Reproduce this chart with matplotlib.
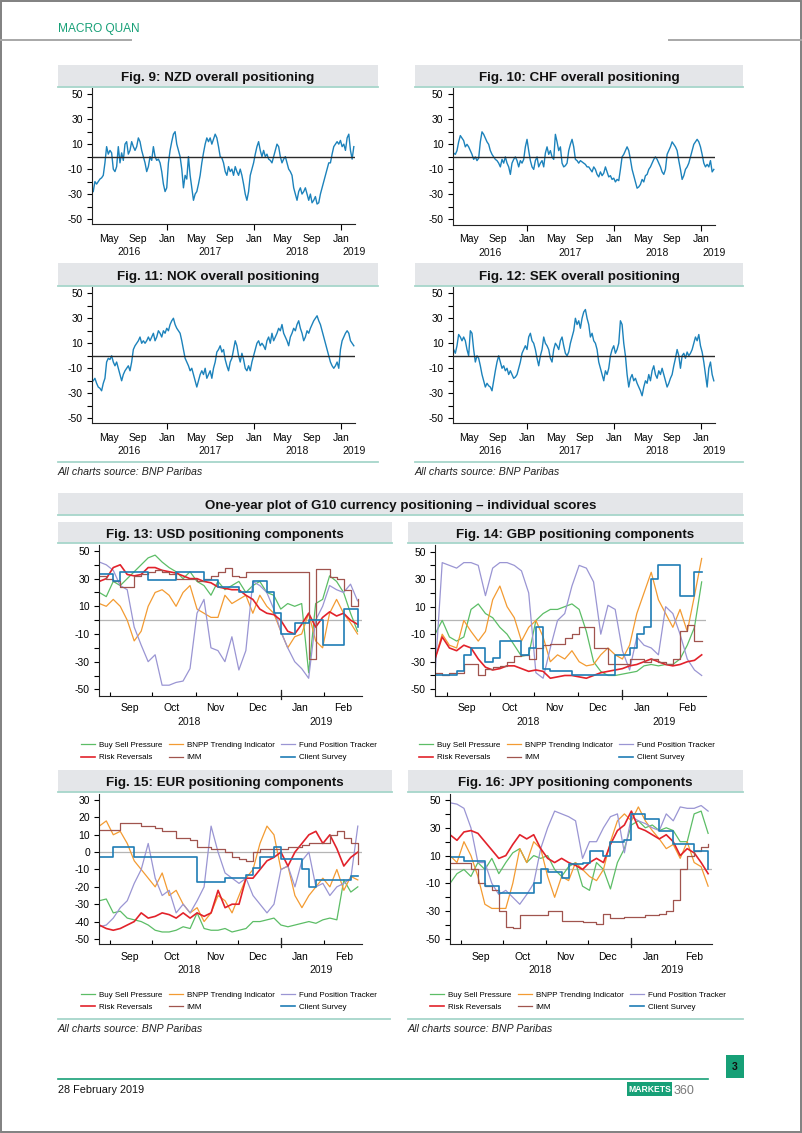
# Recreate the BNP Paribas positioning page (Figs 9-16)

import matplotlib
matplotlib.use("Agg")
import matplotlib.pyplot as plt
import matplotlib.dates as mdates
from matplotlib.patches import Rectangle
from matplotlib.lines import Line2D
from matplotlib.ticker import MultipleLocator
import pandas as pd

plt.rcParams["font.family"] = "Liberation Sans"
plt.rcParams["axes.unicode_minus"] = False

## DATA
# Overall positioning scores, roughly weekly readings, late Feb 2016 - late Feb 2019
nzd = [-28, -20, -22, -20, -18, -17, -15, -5, 8, 2, 5, 3, -10, -12, -8, 8, -5, 3, -3, 10,
       12, 2, 5, 12, 8, 5, 8, 15, 12, 5, 0, -5, -12, -8, 0, -3, 8, 0, -3, -2,
       -5, -12, -22, -28, -25, -5, 5, 12, 18, 20, 10, 5, 0, -10, -25, -15, -18, 0, -15, -25,
       -35, -30, -28, -22, -15, -5, 3, 10, 15, 12, 15, 10, 14, 18, 15, 8, 0, -1, -5, -12,
       -15, -8, -12, -10, -15, -8, -12, -15, -10, -15, -22, -30, -35, -28, -15, -10, -5, 2, 8, 12,
       5, 0, 5, 0, 2, -2, -3, -5, 0, 5, 10, 8, 0, -5, -2, 0, -5, -10, -12, -15,
       -25, -30, -35, -28, -25, -30, -28, -25, -30, -35, -30, -37, -35, -32, -38, -37, -30, -25, -20, -15,
       -10, -5, -5, 2, 8, 10, 12, 10, 13, 8, 10, 5, 15, 18, 5, -2, 8]
chf = [3, 2, 5, 12, 17, 15, 13, 8, 10, 8, 5, 2, -2, 0, -3, -1, 12, 20, 18, 15,
       12, 10, 5, 2, 0, -2, -3, -5, -8, -2, -5, 0, -5, -8, -14, -5, -2, 0, -3, -8,
       -3, -5, -2, 8, 14, 5, -3, -8, -10, -3, 0, -8, -5, -3, -8, 3, 8, 2, 5, 0,
       -2, 18, 12, 5, 8, -5, -8, -7, -5, 5, 10, 14, 8, -2, -3, -5, -3, -4, -5, -6,
       -8, -8, -10, -12, -8, -10, -14, -16, -12, -15, -13, -8, -12, -16, -15, -18, -17, -20, -18, -19,
       -10, 0, 2, 5, 8, 5, -2, -10, -15, -20, -25, -24, -22, -18, -20, -15, -14, -10, -8, -5,
       -2, 0, -2, -5, -8, -12, -14, -10, 2, 5, 8, 12, 10, 8, 5, -3, -10, -18, -15, -10,
       -8, -5, 0, 5, 10, 12, 14, 12, 8, 2, -5, -8, -6, -8, -3, -12, -10]
nok = [-20, -18, -22, -25, -26, -28, -22, -18, -5, -2, -3, 0, -5, -8, -5, -10, -15, -20, -15, -12,
       -10, -8, -12, -5, 5, 8, 10, 12, 15, 10, 12, 10, 12, 15, 12, 15, 18, 12, 15, 20,
       18, 15, 20, 18, 22, 20, 25, 28, 30, 25, 22, 20, 18, 12, 5, -2, -5, -8, -12, -10,
       -15, -20, -25, -20, -15, -12, -15, -10, -18, -15, -12, -18, -10, -5, 3, 5, 8, 3, 5, -3,
       -8, -12, -5, -2, 5, 12, 8, 0, -5, 2, -3, -10, -12, -8, -12, -5, 0, 5, 10, 12,
       8, 10, 8, 5, 12, 15, 10, 18, 12, 15, 18, 22, 20, 25, 18, 15, 12, 8, 15, 18,
       22, 20, 25, 28, 22, 18, 12, 15, 20, 18, 22, 25, 28, 30, 32, 28, 25, 20, 15, 10,
       5, 0, -5, -8, -10, -8, -5, -10, 5, 12, 15, 18, 20, 18, 12, 10, 8]
sek = [5, 2, 8, 17, 15, 12, 15, 12, 5, 0, 20, 18, 5, -5, 0, -2, -8, -15, -20, -25,
       -22, -24, -25, -28, -20, -12, -5, 0, -5, -10, -8, -12, -10, -15, -12, -15, -18, -17, -15, -10,
       -5, 2, 5, 8, 5, 15, 18, 12, 10, 5, -2, -8, 0, 5, 15, 10, 8, 5, -2, -5,
       5, 10, 8, 5, 12, 15, 8, 2, 0, 3, 10, 15, 20, 30, 25, 28, 22, 30, 35, 37,
       30, 25, 15, 18, 12, 10, 5, -5, -10, -15, -20, -12, -15, -10, 0, 5, 8, 2, 5, 10,
       28, 25, 10, 0, -15, -25, -18, -15, -20, -18, -22, -25, -28, -32, -25, -20, -22, -15, -20, -12,
       -8, -15, -18, -12, -15, -10, -15, -20, -25, -22, -18, -15, -8, -2, 5, 0, -10, 0, 2, -2,
       3, 0, 2, 5, 10, 15, 12, 17, 8, 3, -5, -15, -25, -10, -5, -15, -20]

# Component scores, one reading every 5 days from 24 Aug 2018
comp_names = ["Buy Sell Pressure", "BNPP Trending Indicator", "Fund Position Tracker",
              "Risk Reversals", "IMM", "Client Survey"]

usd_bsp = [20, 17, 28, 25, 30, 35, 40, 45, 47, 42, 38, 35, 30, 35, 28, 25, 18, 28, 22, 25,
           28, 20, 25, 28, 20, 18, 8, 12, 10, 12, -38, 12, 15, 32, 28, 20, 5, -8]
usd_bnpp = [12, 10, 15, 10, 0, -15, -8, 10, 20, 22, 18, 10, 20, 25, 8, 5, 2, 2, 18, 12,
            15, 18, 5, 18, 10, 5, -8, -20, -12, -10, 5, -15, -20, 5, 15, 5, -2, -10]
usd_fpt = [42, 40, 36, 25, 22, -5, -18, -30, -25, -47, -47, -45, -44, -35, 5, 15, -20, -22, -30, -12,
           -36, -22, 28, 25, 20, 8, -8, -20, -30, -35, -42, 0, 10, 25, 22, 20, 26, 14]
usd_rr = [28, 30, 38, 40, 33, 32, 33, 38, 38, 36, 35, 34, 32, 30, 30, 28, 27, 24, 23, 22,
          22, 18, 15, 8, 5, 4, 0, -8, -10, -3, 5, -5, 2, 6, 3, 5, 0, -3]
usd_imm = [32, 30, 28, 24, 24, 32, 33, 35, 36, 35, 33, 30, 30, 30, 28, 30, 32, 35, 38, 32,
           31, 35, 35, 35, 35, 35, 35, 35, 35, 35, -28, 37, 37, 31, 30, 22, 10, 15]
usd_cs = [33, 33, 28, 35, 35, 35, 35, 29, 29, 29, 29, 35, 35, 35, 35, 29, 29, 24, 24, 24,
          20, 20, 28, 28, 20, 5, -10, -10, -2, -2, 0, 0, -18, -18, -18, 8, 8, -5]

gbp_bsp = [-10, 0, -12, -15, -12, 8, 12, 5, 2, -5, -10, -18, -26, -25, 0, 5, 8, 8, 10, 12,
           8, -8, -30, -37, -40, -40, -39, -38, -37, -33, -32, -33, -32, -32, -28, -18, -5, 28]
gbp_bnpp = [-28, -10, -18, -20, 0, -8, -15, -8, 15, 25, 10, 2, -15, -5, 0, -12, -30, -25, -28, -22,
            -30, -33, -32, -25, -20, -25, -28, -18, 5, 20, 35, 15, 5, -5, 8, -8, 18, 45]
gbp_fpt = [-40, 42, 40, 38, 42, 42, 40, 18, 38, 42, 42, 40, 36, 20, -38, -42, -20, 0, 5, 25,
           40, 38, 28, -10, 11, 8, -22, -36, -12, -18, -20, -25, 10, 5, -10, -28, -36, -40]
gbp_rr = [-28, -12, -20, -22, -18, -20, -28, -34, -36, -35, -33, -33, -35, -37, -36, -37, -42, -41, -40, -40,
          -41, -42, -40, -38, -37, -36, -35, -33, -32, -30, -28, -30, -32, -33, -32, -30, -29, -25]
gbp_imm = [-38, -40, -38, -38, -32, -32, -40, -35, -34, -33, -30, -26, -25, -28, -20, -18, -17, -17, -13, -10,
           -5, -5, -20, -20, -32, -32, -32, -28, -28, -30, -28, -30, -32, -28, -8, -3, -15, -15]
gbp_cs = [-40, -40, -40, -37, -25, -20, -20, -30, -27, -15, -15, -15, -25, -20, -5, -35, -37, -37, -37, -40,
          -40, -40, -40, -40, -40, -25, -25, -20, -10, -5, 30, 40, 40, 40, 18, 18, 35, 35]

eur_bsp = [-28, -27, -35, -34, -38, -39, -40, -42, -45, -46, -46, -45, -43, -44, -35, -44, -45, -45, -44, -46,
           -45, -44, -40, -40, -39, -38, -42, -43, -42, -41, -40, -41, -39, -38, -39, -16, -23, -20]
eur_bnpp = [15, 18, 10, 12, 5, -5, -10, -15, -20, -12, -25, -22, -30, -35, -32, -40, -35, -25, -28, -35,
            -25, -15, -10, 5, 15, 10, -10, -8, -25, -32, -25, -20, -15, -20, -10, -22, -14, -16]
eur_fpt = [-43, -42, -38, -32, -28, -18, -10, 5, -15, -25, -22, -35, -30, -35, -28, -20, 15, 0, -12, -15,
           -18, -15, -25, -30, -35, -30, -10, -8, -20, -5, 0, -20, -18, -25, -20, -18, -15, 15]
eur_rr = [-42, -44, -45, -44, -42, -40, -35, -38, -37, -35, -36, -38, -35, -38, -35, -37, -35, -22, -32, -30,
          -30, -15, -15, -10, -5, -3, 0, -8, 0, 5, 10, 12, 5, 10, 2, -8, -3, 0]
eur_imm = [13, 13, 13, 17, 17, 17, 15, 15, 14, 12, 12, 8, 8, 7, 3, 3, 2, 2, 0, -3,
           -4, -5, 0, 2, 2, 2, 2, 3, 3, 4, 5, 5, 5, 10, 12, 8, 5, -7]
eur_cs = [-3, -3, 3, 3, 3, -3, -3, -3, -3, -3, -3, -3, -3, -3, -17, -17, -17, -17, -15, -15,
          -15, -13, -9, -3, -3, 3, -4, -4, -4, -10, -20, -16, -16, -16, -16, -16, -14, -14]

jpy_bsp = [-10, -3, 0, -5, 5, 0, 8, -3, 5, 12, 15, 5, 10, 8, 10, 0, -5, 2, 5, -12,
           -15, 5, 0, -14, 5, 15, 32, 35, 30, 32, 28, 30, 28, 20, 20, 40, 42, 26]
jpy_bnpp = [10, 5, 20, 10, -5, -25, -28, -28, -28, -10, 15, 5, 20, 15, -5, -20, -5, -8, 5, 0,
            -5, -8, 0, 20, 35, 40, 35, 45, 35, 28, 22, 15, 18, 8, 20, 5, 2, -12]
jpy_fpt = [48, 47, 44, 30, 5, 5, -10, -18, -15, -20, -25, -18, -10, 15, 30, 42, 40, 38, 35, 8,
           20, 20, 30, 38, 40, 12, 38, 35, 33, 30, 28, 40, 35, 45, 44, 44, 46, 42]
jpy_rr = [25, 21, 27, 28, 26, 20, 14, 8, 10, 18, 25, 22, 25, 15, 8, 5, 8, 5, 3, 0,
          5, 8, 5, 18, 28, 32, 42, 30, 28, 25, 22, 25, 20, 10, 15, 12, 5, -3]
jpy_imm = [5, 5, 5, 0, -10, -12, -15, -30, -41, -42, -33, -33, -33, -33, -30, -30, -37, -37, -37, -38,
           -38, -39, -32, -35, -35, -34, -34, -34, -33, -33, -32, -30, -22, 0, 10, 13, 16, 18]
jpy_cs = [9, 9, 6, 6, 6, -12, -12, -17, -17, -17, -17, -17, -10, 0, -2, -2, -6, 4, 4, 5,
          13, 13, 10, 20, 20, 21, 40, 40, 36, 36, 28, 28, 18, 18, 18, 13, 13, 0]

## STYLE
BLUE = "#1c82bb"
COMP_COLORS = ["#5cbd66", "#f39b32", "#9a95d3", "#e2222b", "#a0544e", "#1f7db5"]
COMP_LW = [0.9, 0.9, 0.9, 1.2, 0.9, 1.2]
COMP_STEP = [False, False, False, False, True, True]
BOXGRAY = "#e4e6e9"
PALE = "#a6d6ca"
GREEN = "#17a077"
TICK_FS = 7.5

W, H = 802, 1133
fig = plt.figure(figsize=(W / 100, H / 100), dpi=100)


def px_text(x, y, s, **kw):
    return fig.text(x / W, 1 - y / H, s, **kw)


def px_rect(x0, y0, x1, y1, **kw):
    fig.patches.append(Rectangle((x0 / W, 1 - y1 / H), (x1 - x0) / W, (y1 - y0) / H,
                                 transform=fig.transFigure, **kw))


def px_hline(x0, x1, y, color, lw=1.0):
    fig.add_artist(Line2D([x0 / W, x1 / W], [1 - y / H, 1 - y / H],
                          transform=fig.transFigure, color=color, lw=lw))


def title_box(x0, x1, y0, y1, text):
    px_rect(x0, y0, x1, y1, facecolor=BOXGRAY, edgecolor="none")
    px_hline(x0, x1, y1, PALE, lw=1.3)
    px_text((x0 + x1) / 2, (y0 + y1) / 2 + 5.2, text, ha="center", va="baseline",
            fontsize=9.6, fontweight="bold", color="#111111")


def add_ax(l, t, r, b):
    ax = fig.add_axes([l / W, 1 - b / H, (r - l) / W, (b - t) / H])
    for side in ["top", "right"]:
        ax.spines[side].set_visible(False)
    for side in ["left", "bottom"]:
        ax.spines[side].set_linewidth(0.8)
        ax.spines[side].set_color("#222222")
    ax.set_facecolor("none")
    return ax


def year_labels(ax, x0, x1, offset_px, last_at_edge=False):
    for yr in range(x0.year, x1.year + 1):
        a = max(x0, pd.Timestamp(yr, 1, 1))
        b = min(x1, pd.Timestamp(yr, 12, 31))
        mid = a + (b - a) / 2
        if last_at_edge and yr == x1.year:
            mid = x1 - pd.Timedelta(days=2)
        ax.annotate(str(yr), xy=(mdates.date2num(mid), 0), xycoords=ax.get_xaxis_transform(),
                    xytext=(0, -offset_px * 0.72), textcoords="offset points",
                    ha="center", va="center", fontsize=TICK_FS, color="#111111")


def overall_chart(values, l, t, r, b):
    ax = add_ax(l, t, r, b)
    dates = pd.date_range("2016-02-26", "2019-02-25", periods=len(values))
    ax.plot(dates, values, color=BLUE, lw=1.0)
    ax.axhline(0, color="#2a2a2a", lw=1.0)
    x0, x1 = pd.Timestamp("2016-02-22"), pd.Timestamp("2019-03-02")
    ax.set_xlim(x0, x1)
    ax.set_ylim(-54, 55)
    ax.set_yticks(range(-50, 51, 20))
    ax.yaxis.set_minor_locator(MultipleLocator(10))
    ax.xaxis.set_major_locator(mdates.MonthLocator(bymonth=[1, 5, 9]))
    ax.xaxis.set_major_formatter(mdates.DateFormatter("%b"))
    ax.xaxis.set_minor_locator(mdates.MonthLocator(bymonth=1))
    ax.xaxis.remove_overlapping_locs = False
    ax.tick_params(axis="x", which="major", length=0, pad=7.2, labelsize=TICK_FS)
    ax.tick_params(axis="x", which="minor", length=4, width=0.8)
    ax.tick_params(axis="y", which="both", length=3.5, width=0.8, labelsize=TICK_FS, pad=3.2)
    year_labels(ax, x0, x1, 28, last_at_edge=True)
    return ax


def comp_chart(series, l, t, r, b, ylim, label_step, legend_xy):
    ax = add_ax(l, t, r, b)
    dates = pd.date_range("2018-08-24", periods=len(series[0]), freq="5D")
    ax.axhline(0, color="#b5b5b5", lw=0.9)
    handles = []
    for vals, name, col, lw, step in zip(series, comp_names, COMP_COLORS, COMP_LW, COMP_STEP):
        h, = ax.plot(dates, vals, color=col, lw=lw, label=name,
                     drawstyle="steps-post" if step else "default")
        handles.append(h)
    x0, x1 = pd.Timestamp("2018-08-24"), pd.Timestamp("2019-02-28")
    ax.set_xlim(x0, x1)
    ax.set_ylim(*ylim)
    ax.set_yticks(range(-50, 51 if ylim[1] > 40 else 31, label_step))
    ax.yaxis.set_minor_locator(MultipleLocator(10))
    ax.xaxis.set_major_locator(mdates.MonthLocator(bymonthday=15))
    ax.xaxis.set_major_formatter(mdates.DateFormatter("%b"))
    ax.xaxis.set_minor_locator(mdates.MonthLocator(bymonthday=1))
    ax.tick_params(axis="x", which="major", length=0, pad=5.2, labelsize=TICK_FS)
    ax.tick_params(axis="x", which="minor", length=3, width=0.8, direction="in")
    ax.tick_params(axis="y", which="both", length=3.5, width=0.8, labelsize=TICK_FS, pad=3.2)
    jan = mdates.date2num(pd.Timestamp("2019-01-01"))
    ax.plot([jan, jan], [-0.02, 0.04], transform=ax.get_xaxis_transform(),
            color="#222222", lw=0.9, clip_on=False)
    year_labels(ax, x0, x1, 26)
    # legend: three columns, filled row by row
    order = [0, 3, 1, 4, 2, 5]
    ax.legend([handles[i] for i in order], [comp_names[i] for i in order],
              loc="center", bbox_to_anchor=(legend_xy[0] / W, 1 - legend_xy[1] / H),
              bbox_transform=fig.transFigure, ncol=3, frameon=False, fontsize=5.8,
              handlelength=1.7, handletextpad=0.5, columnspacing=0.8, labelspacing=0.55)
    return ax


## PAGE FRAME
fig.patches.append(Rectangle((0.0008, 0.0006), 0.998, 0.9988, transform=fig.transFigure,
                             fill=False, edgecolor="#808080", lw=1.4))
px_text(58, 32, "MACRO QUAN", fontsize=8.6, color=GREEN)
px_hline(0, 131, 40, "#a8a8a8", lw=1.4)
px_hline(669, 802, 40, "#a8a8a8", lw=1.4)

## OVERALL CHARTS
title_box(58, 378, 65, 87, "Fig. 9: NZD overall positioning")
title_box(415, 743, 65, 87, "Fig. 10: CHF overall positioning")
title_box(58, 378, 263, 286, "Fig. 11: NOK overall positioning")
title_box(415, 743, 263, 286, "Fig. 12: SEK overall positioning")

overall_chart(nzd, 92.3, 88, 355, 224)
overall_chart(chf, 452.7, 88, 715, 224.5)
overall_chart(nok, 92.3, 287, 355, 423.3)
overall_chart(sek, 452.7, 287, 715, 423.3)

px_hline(58, 378, 462, PALE, lw=1.3)
px_hline(415, 743, 462, PALE, lw=1.3)
px_text(58, 475, "All charts source: BNP Paribas", fontsize=7.7, style="italic", color="#222222")
px_text(415, 475, "All charts source: BNP Paribas", fontsize=7.7, style="italic", color="#222222")

## COMPONENT CHARTS
title_box(58, 743, 493, 515, "One-year plot of G10 currency positioning \u2013 individual scores")
title_box(58, 392, 522, 543, "Fig. 13: USD positioning components")
title_box(408, 743, 522, 543, "Fig. 14: GBP positioning components")
title_box(58, 392, 770, 792, "Fig. 15: EUR positioning components")
title_box(408, 743, 770, 792, "Fig. 16: JPY positioning components")

comp_chart([usd_bsp, usd_bnpp, usd_fpt, usd_rr, usd_imm, usd_cs],
           99.3, 545, 361.7, 696, (-54.8, 54.3), 20, (229, 751.5))
comp_chart([gbp_bsp, gbp_bnpp, gbp_fpt, gbp_rr, gbp_imm, gbp_cs],
           435, 545, 706, 696, (-54.9, 54.8), 20, (567, 751.5))
comp_chart([eur_bsp, eur_bnpp, eur_fpt, eur_rr, eur_imm, eur_cs],
           99.3, 794, 362, 944.3, (-53.1, 33.5), 10, (229, 1001))
comp_chart([jpy_bsp, jpy_bnpp, jpy_fpt, jpy_rr, jpy_imm, jpy_cs],
           450, 794, 712.3, 944.3, (-53.8, 54.3), 20, (578, 1001))

px_hline(58, 390, 1019, PALE, lw=1.3)
px_hline(408, 743, 1019, PALE, lw=1.3)
px_text(58, 1032, "All charts source: BNP Paribas", fontsize=7.7, style="italic", color="#222222")
px_text(408, 1032, "All charts source: BNP Paribas", fontsize=7.7, style="italic", color="#222222")

## FOOTER
px_rect(726, 1055, 744, 1078, facecolor=GREEN, edgecolor="none")
px_text(735, 1066.5, "3", ha="center", va="center", fontsize=7.5, fontweight="bold", color="#111111")
px_hline(58, 708, 1079, GREEN, lw=1.2)
px_text(58, 1093, "28 February 2019", fontsize=7.8, color="#111111")
px_rect(627, 1082, 672, 1096, facecolor=GREEN, edgecolor="none")
px_text(649.5, 1089.5, "MARKETS", ha="center", va="center", fontsize=6.2, fontweight="bold",
        color="white")
px_text(674, 1094, "360", fontsize=9, color="#7a7a7a")

fig.savefig("out.png", dpi=100)
